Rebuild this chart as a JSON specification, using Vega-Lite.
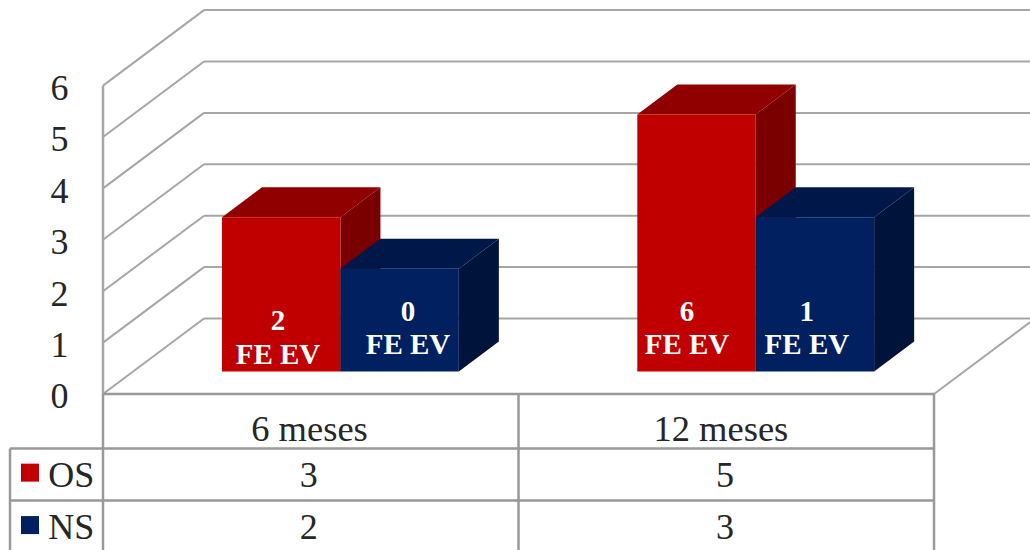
{
"$schema":"https://vega.github.io/schema/vega-lite/v6.json",
"width":927,"height":550,"autosize":{"type":"none"},"padding":{"left":103,"top":0,"right":0,"bottom":0},
"background":"white",
"view":{"stroke":null},
"config":{"font":"Liberation Serif","text":{"font":"Liberation Serif"}},
"datasets":{
"barras":[
{"mes":"6 meses","serie":"OS","valor":3,"fe":2},
{"mes":"6 meses","serie":"NS","valor":2,"fe":0},
{"mes":"12 meses","serie":"OS","valor":5,"fe":6},
{"mes":"12 meses","serie":"NS","valor":3,"fe":1}],
"niveles":[{"nivel":0},{"nivel":1},{"nivel":2},{"nivel":3},{"nivel":4},{"nivel":5},{"nivel":6}],
"filas":[{"fila":0},{"fila":1},{"fila":2}],
"columnas":[{"col":-1},{"col":0},{"col":1},{"col":2}]
},
"encoding":{
"x":{"field":"x","type":"quantitative","scale":{"domain":[0,2.231],"nice":false,"zero":false},"axis":null},
"y":{"field":"y","type":"quantitative","scale":{"domain":[-3.035,7.665],"nice":false,"zero":false},
"axis":{"values":[0,1,2,3,4,5,6],"format":"d","title":null,"domain":false,"ticks":false,"grid":false,"labelPadding":35,"labelFontSize":36,"labelFont":"Liberation Serif","labelColor":"#262626","labelOffset":3}}
},
"layer":[
{"data":{"name":"niveles"},"transform":[{"calculate":"0","as":"x"},{"calculate":"0.2431","as":"x2"},{"calculate":"datum.nivel","as":"y"},{"calculate":"datum.nivel+1.469","as":"y2"}],
"mark":{"type":"rule","stroke":"#A6A6A6","strokeWidth":2},"encoding":{"x2":{"field":"x2"},"y2":{"field":"y2"}}},
{"data":{"name":"niveles"},"transform":[{"calculate":"0.2431","as":"x"},{"calculate":"2.26","as":"x2"},{"calculate":"datum.nivel+1.469","as":"y"}],
"mark":{"type":"rule","stroke":"#A6A6A6","strokeWidth":2},"encoding":{"x2":{"field":"x2"}}},
{"data":{"values":[{"arista":"eje"}]},"transform":[{"calculate":"0","as":"x"},{"calculate":"0","as":"y"},{"calculate":"6","as":"y2"}],
"mark":{"type":"rule","stroke":"#A6A6A6","strokeWidth":2.5},"encoding":{"y2":{"field":"y2"}}},
{"data":{"values":[{"arista":"suelo"}]},"transform":[{"calculate":"2","as":"x"},{"calculate":"2.2431","as":"x2"},{"calculate":"0","as":"y"},{"calculate":"1.469","as":"y2"}],
"mark":{"type":"rule","stroke":"#A6A6A6","strokeWidth":2},"encoding":{"x2":{"field":"x2"},"y2":{"field":"y2"}}},
{"data":{"name":"filas"},"transform":[{"calculate":"datum.fila==0?0:-0.2238","as":"x"},{"calculate":"2","as":"x2"},{"calculate":"[0,-1.06,-2.07][datum.fila]","as":"y"}],
"mark":{"type":"rule","stroke":"#999999","strokeWidth":2.5},"encoding":{"x2":{"field":"x2"}}},
{"data":{"name":"columnas"},"transform":[{"calculate":"datum.col==-1?-0.2238:datum.col","as":"x"},{"calculate":"datum.col==-1?-1.06:0","as":"y"},{"calculate":"-3.04","as":"y2"}],
"mark":{"type":"rule","stroke":"#999999","strokeWidth":2.5},"encoding":{"y2":{"field":"y2"}}},
{"data":{"name":"barras"},
"transform":[
{"calculate":"datum.mes=='6 meses'?0:0.9995","as":"i"},
{"calculate":"datum.serie=='OS'?0:0.285","as":"s"},
{"calculate":"datum.i+0.2864+datum.s","as":"x0"},
{"calculate":"datum.x0+0.285","as":"x1"},
{"calculate":"0.4377","as":"base"},
{"calculate":"datum.base+datum.valor","as":"cima"}],
"encoding":{"color":{"field":"tono","type":"nominal","legend":null,"scale":{"domain":["OS-frente","OS-cima","OS-lado","NS-frente","NS-cima","NS-lado"],"range":["#C00000","#900000","#7A0000","#00205F","#00174A","#00133A"]}}},
"layer":[
{"transform":[{"calculate":"[0,1]","as":"t"},{"flatten":["t"]},{"calculate":"datum.serie+'-lado'","as":"tono"},
{"calculate":"datum.x1+datum.t*0.0963","as":"x"},{"calculate":"datum.cima+datum.t*0.5837","as":"y"},{"calculate":"datum.base+datum.t*0.5837","as":"y2"}],
"mark":{"type":"area","orient":"vertical"},"encoding":{"y2":{"field":"y2"},"detail":{"field":"mes"}}},
{"transform":[{"calculate":"[0,1]","as":"t"},{"flatten":["t"]},{"calculate":"datum.serie+'-cima'","as":"tono"},
{"calculate":"datum.x0+datum.t*0.0963","as":"x"},{"calculate":"datum.x1+datum.t*0.0963","as":"x2"},{"calculate":"datum.cima+datum.t*0.5837","as":"y"}],
"mark":{"type":"area","orient":"horizontal"},"encoding":{"x2":{"field":"x2"},"detail":{"field":"mes"}}},
{"transform":[{"calculate":"datum.serie+'-frente'","as":"tono"},{"calculate":"datum.x0","as":"x"},{"calculate":"datum.x1","as":"x2"},{"calculate":"datum.cima","as":"y"},{"calculate":"datum.base","as":"y2"}],
"mark":{"type":"rect"},"encoding":{"x2":{"field":"x2"},"y2":{"field":"y2"}}},
{"transform":[{"filter":"datum.mes=='6 meses'"},{"calculate":"datum.serie+'-frente'","as":"tono"},{"calculate":"-0.1757","as":"x"},{"calculate":"datum.serie=='OS'?-1.53:-2.55","as":"y"}],
"mark":{"type":"point","shape":"square","filled":true,"size":324,"opacity":1}}
]},
{"data":{"name":"barras"},"transform":[
{"calculate":"datum.fe==2?0.4212:datum.fe==0?0.734:datum.fe==6?1.4055:1.694","as":"x"},
{"calculate":"datum.fe==2?1.411:1.60","as":"y"},
{"calculate":"datum.fe+'\\nFE EV'","as":"etiqueta"}],
"mark":{"type":"text","font":"Liberation Serif","fontWeight":"bold","fontSize":29,"color":"white","lineBreak":"\n","lineHeight":33.5,"baseline":"middle","align":"center"},
"encoding":{"text":{"field":"etiqueta"}}},
{"data":{"name":"barras"},"transform":[{"filter":"datum.serie=='OS'"},{"calculate":"datum.mes=='6 meses'?0.497:1.487","as":"x"},{"calculate":"-0.70","as":"y"}],
"mark":{"type":"text","font":"Liberation Serif","fontSize":36.5,"color":"#262626","baseline":"middle","align":"center"},
"encoding":{"text":{"field":"mes"}}},
{"data":{"name":"barras"},"transform":[{"calculate":"datum.mes=='6 meses'?0.495:1.497","as":"x"},{"calculate":"datum.serie=='OS'?-1.59:-2.60","as":"y"}],
"mark":{"type":"text","font":"Liberation Serif","fontSize":36,"color":"#262626","baseline":"middle","align":"center"},
"encoding":{"text":{"field":"valor"}}},
{"data":{"name":"barras"},"transform":[{"filter":"datum.mes=='6 meses'"},{"calculate":"-0.132","as":"x"},{"calculate":"datum.serie=='OS'?-1.59:-2.60","as":"y"}],
"mark":{"type":"text","font":"Liberation Serif","fontSize":36,"color":"#262626","baseline":"middle","align":"left"},
"encoding":{"text":{"field":"serie"}}}
]
}
